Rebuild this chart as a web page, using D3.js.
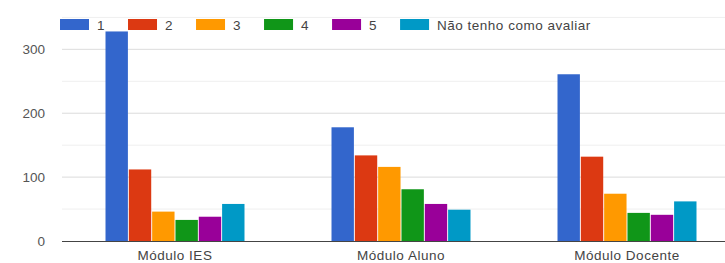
<!DOCTYPE html>
<html><head><meta charset="utf-8">
<script src="https://cdn.jsdelivr.net/npm/d3@7"></script>
<style>body{margin:0;background:#fff;} text{font-family:"Liberation Sans",Arial,sans-serif;}</style>
</head><body>
<script>
const categories = ["Módulo IES", "Módulo Aluno", "Módulo Docente"];
const seriesNames = ["1", "2", "3", "4", "5", "Não tenho como avaliar"];
const s1 = [328, 178, 261];
const s2 = [112, 134, 132];
const s3 = [46, 116, 74];
const s4 = [33, 81, 44];
const s5 = [38, 58, 41];
const s6 = [58, 49, 62];
const seriesValues = [s1, s2, s3, s4, s5, s6];
const colors = ["#3366cc", "#dc3912", "#ff9900", "#109618", "#990099", "#0099c6"];
const majorTicks = [0, 100, 200, 300];
const minorTicks = [50, 150, 250, 350];

const W = 725, H = 263;
const svg = d3.select("body").append("svg").attr("width", W).attr("height", H);

const x0 = d3.scaleBand().domain(categories).range([62, 740]).paddingInner(0.385).paddingOuter(0.1925);
const x1 = d3.scaleBand().domain(seriesNames).range([0, x0.bandwidth()]).paddingInner(0.04);
const y = d3.scaleLinear().domain([0, 350]).range([241, 17.4]);

// gridlines
svg.append("g").selectAll("line").data(minorTicks).join("line")
  .attr("x1", 62).attr("x2", W).attr("y1", d => y(d)).attr("y2", d => y(d))
  .attr("stroke", "#efefef").attr("stroke-width", 1);
svg.append("g").selectAll("line").data(majorTicks.filter(d => d > 0)).join("line")
  .attr("x1", 62).attr("x2", W).attr("y1", d => y(d)).attr("y2", d => y(d))
  .attr("stroke", "#dcdcdc").attr("stroke-width", 1);

// y labels
svg.append("g").selectAll("text").data(majorTicks).join("text")
  .attr("x", 45).attr("y", d => y(d)).attr("dy", "0.35em")
  .attr("text-anchor", "end").attr("font-size", 13.5).attr("fill", "#555")
  .text(d => d);

// bars
const rows = categories.map((c, i) => ({ c, vals: seriesNames.map((s, j) => ({ s, j, v: seriesValues[j][i] })) }));
const g = svg.append("g").selectAll("g").data(rows).join("g")
  .attr("transform", d => `translate(${x0(d.c)},0)`);
g.selectAll("rect").data(d => d.vals).join("rect")
  .attr("x", d => x1(d.s)).attr("width", x1.bandwidth())
  .attr("y", d => y(d.v)).attr("height", d => y(0) - y(d.v))
  .attr("fill", d => colors[d.j]);

// baseline
svg.append("line").attr("x1", 62).attr("x2", W).attr("y1", y(0) + 0.5).attr("y2", y(0) + 0.5)
  .attr("stroke", "#444").attr("stroke-width", 1.2);

// x labels
svg.append("g").selectAll("text").data(categories).join("text")
  .attr("x", d => x0(d) + x0.bandwidth() / 2).attr("y", 260)
  .attr("text-anchor", "middle").attr("font-size", 13.5).attr("letter-spacing", 0.5).attr("fill", "#444")
  .text(d => d);

// legend
const leg = svg.append("g");
let lx = 60;
seriesNames.forEach((s, j) => {
  leg.append("rect").attr("x", lx).attr("y", 19).attr("width", 29).attr("height", 11).attr("fill", colors[j]);
  const t = leg.append("text").attr("x", lx + 37).attr("y", 29.5)
    .attr("font-size", 13.5).attr("letter-spacing", 0.5).attr("fill", "#444").text(s);
  lx += 37 + t.node().getComputedTextLength() + 23;
});
</script>
</body></html>
